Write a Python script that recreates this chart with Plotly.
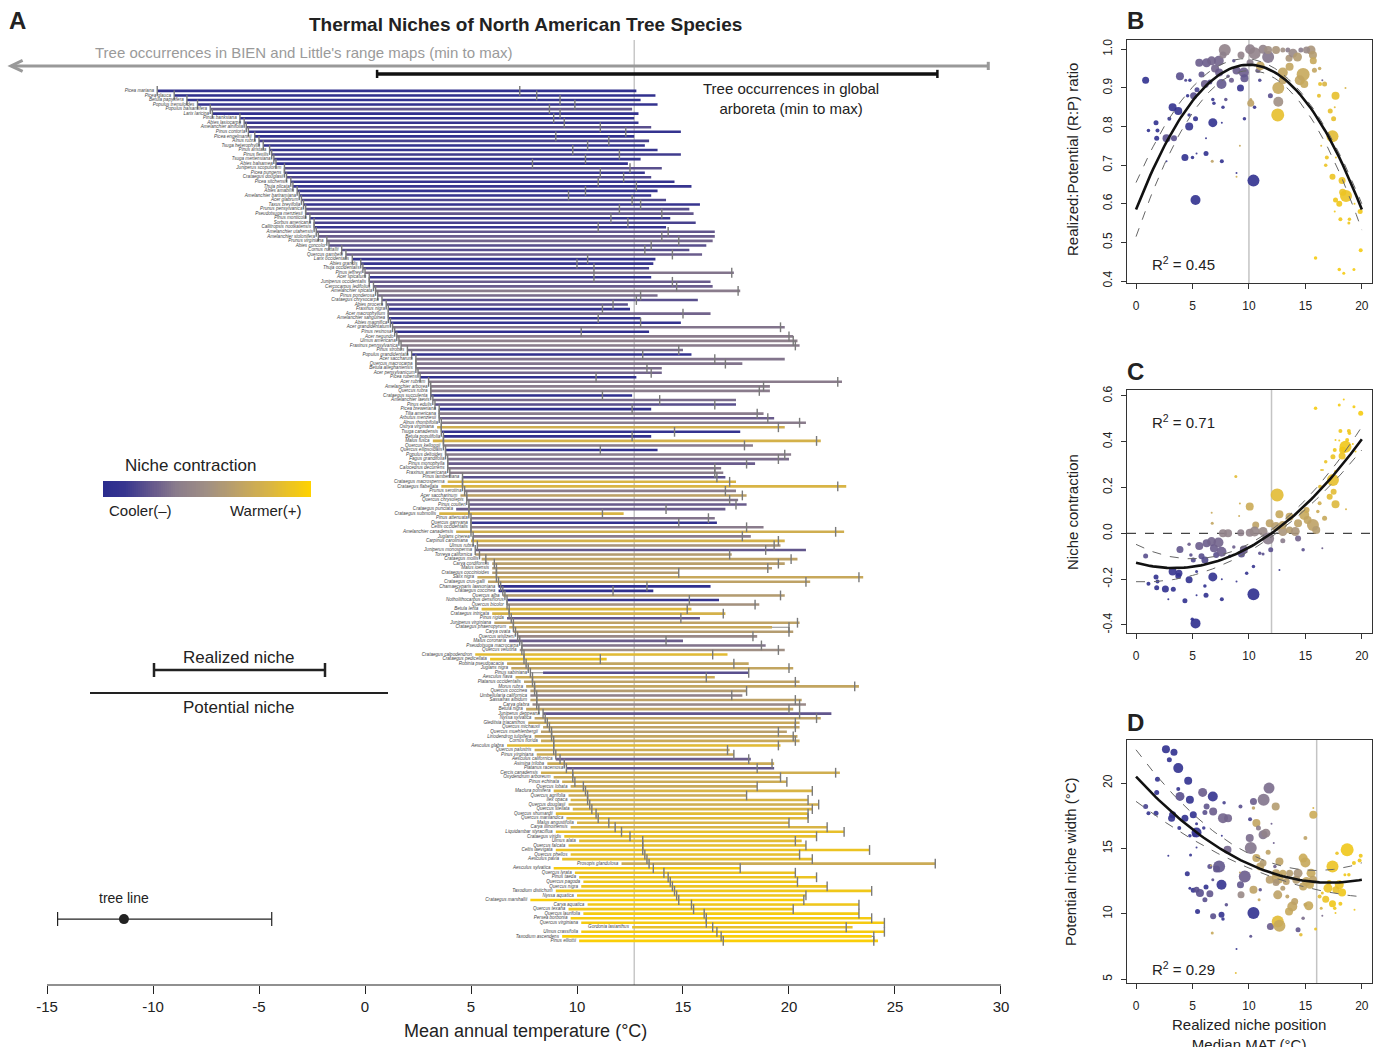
import plotly.graph_objects as go
from plotly.colors import sample_colorscale

W, H = 1382, 1047

# ---------------- Panel A data ----------------
species = [
    "Picea mariana", "Picea glauca", "Betula papyrifera", "Populus tremuloides", "Populus balsamifera",
    "Larix laricina", "Pinus banksiana", "Abies lasiocarpa", "Amelanchier alnifolia", "Pinus contorta",
    "Picea engelmannii", "Alnus rubra", "Tsuga heterophylla", "Pinus aristata", "Pinus flexilis",
    "Tsuga mertensiana", "Abies balsamea", "Juniperus scopulorum", "Picea pungens", "Crataegus douglasii",
    "Picea sitchensis", "Thuja plicata", "Abies amabilis", "Amelanchier bartramiana", "Acer glabrum",
    "Taxus brevifolia", "Prunus pensylvanica", "Pseudotsuga menziesii", "Pinus monticola", "Sorbus americana",
    "Callitropsis nootkatensis", "Amelanchier utahensis", "Amelanchier stolonifera", "Prunus virginiana", "Abies concolor",
    "Cornus nuttallii", "Quercus gambelii", "Larix occidentalis", "Abies grandis", "Thuja occidentalis",
    "Pinus jeffreyi", "Acer spicatum", "Juniperus occidentalis", "Cercocarpus ledifolius", "Amelanchier spicata",
    "Pinus ponderosa", "Crataegus chrysocarpa", "Abies procera", "Fraxinus nigra", "Acer macrophyllum",
    "Amelanchier sanguinea", "Abies magnifica", "Acer grandidentatum", "Pinus resinosa", "Acer negundo",
    "Ulmus americana", "Fraxinus pennsylvanica", "Pinus strobus", "Populus grandidentata", "Acer saccharum",
    "Quercus macrocarpa", "Betula alleghaniensis", "Acer pensylvanicum", "Picea rubens", "Acer rubrum",
    "Amelanchier arborea", "Quercus rubra", "Crataegus succulenta", "Amelanchier laevis", "Pinus edulis",
    "Picea breweriana", "Tilia americana", "Arbutus menziesii", "Alnus rhombifolia", "Ostrya virginiana",
    "Tsuga canadensis", "Betula populifolia", "Malus fusca", "Quercus kelloggii", "Quercus ellipsoidalis",
    "Populus deltoides", "Fagus grandifolia", "Pinus monophylla", "Calocedrus decurrens", "Fraxinus americana",
    "Pinus lambertiana", "Crataegus macrosperma", "Crataegus flabellata", "Prunus serotina", "Acer saccharinum",
    "Quercus chrysolepis", "Pinus coulteri", "Crataegus punctata", "Crataegus submollis", "Pinus attenuata",
    "Quercus garryana", "Celtis occidentalis", "Amelanchier canadensis", "Juglans cinerea", "Carpinus caroliniana",
    "Ulmus rubra", "Juniperus monosperma", "Torreya californica", "Crataegus mollis", "Carya cordiformis",
    "Malus ioensis", "Crataegus coccinioides", "Salix nigra", "Crataegus crus-galli", "Chamaecyparis lawsoniana",
    "Crataegus coccinea", "Quercus alba", "Notholithocarpus densiflorus", "Quercus bicolor", "Betula lenta",
    "Crataegus intricata", "Pinus rigida", "Juniperus virginiana", "Crataegus phaenopyrum", "Carya ovata",
    "Quercus wislizeni", "Malus coronaria", "Pseudotsuga macrocarpa", "Quercus velutina", "Crataegus calpodendron",
    "Crataegus pedicellata", "Robinia pseudoacacia", "Juglans nigra", "Pinus sabiniana", "Aesculus flava",
    "Platanus occidentalis", "Morus rubra", "Quercus coccinea", "Umbellularia californica", "Sassafras albidum",
    "Carya glabra", "Betula nigra", "Juniperus deppeana", "Nyssa sylvatica", "Gleditsia triacanthos",
    "Quercus michauxii", "Quercus muehlenbergii", "Liriodendron tulipifera", "Cornus florida", "Aesculus glabra",
    "Quercus palustris", "Pinus virginiana", "Aesculus californica", "Asimina triloba", "Platanus racemosa",
    "Cercis canadensis", "Oxydendrum arboreum", "Pinus echinata", "Quercus lobata", "Maclura pomifera",
    "Quercus agrifolia", "Ilex opaca", "Quercus douglasii", "Quercus stellata", "Quercus shumardii",
    "Quercus marilandica", "Malus angustifolia", "Carya illinoinensis", "Liquidambar styraciflua", "Crataegus viridis",
    "Ulmus alata", "Quercus falcata", "Celtis laevigata", "Quercus phellos", "Aesculus pavia",
    "Prosopis glandulosa", "Aesculus sylvatica", "Quercus lyrata", "Pinus taeda", "Quercus pagoda",
    "Quercus nigra", "Taxodium distichum", "Nyssa aquatica", "Crataegus marshallii", "Carya aquatica",
    "Quercus texana", "Quercus laurifolia", "Persea borbonia", "Quercus virginiana", "Gordonia lasianthus",
    "Ulmus crassifolia", "Taxodium ascendens", "Pinus elliottii",
]

pot_min = [
    -9.8, -9.0, -8.4, -7.9, -7.3, -7.2, -5.9, -5.7, -5.6, -5.5,
    -5.2, -5.0, -4.8, -4.5, -4.4, -4.3, -4.2, -3.8, -3.8, -3.7,
    -3.5, -3.4, -3.2, -3.1, -3.0, -2.9, -2.8, -2.8, -2.6, -2.4,
    -2.4, -2.3, -2.2, -1.8, -1.7, -1.1, -0.9, -0.6, -0.2, -0.1,
    0.0, 0.2, 0.2, 0.4, 0.5, 0.6, 0.8, 1.0, 1.1, 1.1,
    1.1, 1.2, 1.3, 1.4, 1.5, 1.6, 1.7, 2.0, 2.2, 2.4,
    2.4, 2.4, 2.5, 2.6, 3.0, 3.1, 3.1, 3.1, 3.2, 3.3,
    3.5, 3.5, 3.5, 3.6, 3.4, 3.6, 3.7, 3.2, 3.7, 3.8,
    3.8, 3.9, 3.9, 3.9, 4.0, 4.6, 3.9, 3.6, 4.7, 4.5,
    4.8, 4.9, 4.3, 3.5, 5.0, 5.0, 5.0, 4.3, 5.1, 5.0,
    5.3, 5.2, 5.2, 5.5, 6.0, 6.0, 6.0, 5.3, 5.8, 6.3,
    6.3, 6.5, 6.7, 6.7, 5.5, 6.0, 6.7, 6.1, 6.8, 7.0,
    7.2, 6.8, 7.4, 7.3, 5.2, 5.9, 6.7, 6.9, 8.4, 7.1,
    7.5, 7.6, 7.8, 7.8, 7.8, 7.9, 7.6, 8.4, 8.0, 7.7,
    8.4, 8.3, 8.0, 8.3, 6.7, 8.0, 8.1, 9.0, 8.6, 9.5,
    8.3, 8.9, 9.3, 9.7, 8.9, 9.6, 9.7, 9.6, 9.8, 9.0,
    9.5, 10.0, 9.7, 9.0, 9.4, 10.1, 9.6, 9.0, 9.7, 9.3,
    12.1, 8.9, 9.9, 10.1, 10.3, 10.2, 9.0, 10.0, 7.8, 10.5,
    9.6, 10.3, 9.7, 10.2, 12.6, 10.2, 9.3, 10.1,
]

real_min = [
    -9.8, -9.0, -8.4, -7.9, -7.3, -7.2, -5.9, -5.7, -5.6, -5.5,
    -5.2, -5.0, -4.8, -4.5, -4.4, -4.3, -4.2, -3.8, -3.8, -3.7,
    -3.5, -3.4, -3.2, -3.1, -3.0, -2.9, -2.8, -2.8, -2.6, -2.4,
    -2.4, -2.3, -2.2, -1.8, -1.7, -1.1, -0.9, -0.6, -0.2, -0.1,
    0.0, 0.2, 0.2, 0.4, 0.5, 0.6, 0.8, 1.0, 1.1, 1.1,
    1.1, 1.2, 1.3, 1.4, 1.5, 1.6, 1.7, 2.0, 2.2, 2.4,
    2.4, 2.4, 2.5, 2.6, 3.0, 3.1, 3.1, 3.1, 3.2, 3.3,
    3.5, 3.5, 3.5, 3.6, 3.6, 3.6, 3.7, 3.7, 3.7, 3.8,
    3.8, 3.9, 3.9, 3.9, 4.0, 4.6, 4.6, 4.6, 4.7, 4.8,
    4.8, 4.9, 4.9, 4.9, 5.0, 5.0, 5.0, 5.0, 5.1, 5.1,
    5.3, 5.2, 5.4, 5.7, 6.1, 6.2, 6.2, 6.2, 6.3, 6.4,
    6.5, 6.6, 6.7, 6.7, 6.8, 6.8, 6.9, 7.0, 7.0, 7.1,
    7.2, 7.3, 7.4, 7.4, 7.5, 7.5, 7.6, 7.7, 7.8, 7.9,
    7.9, 8.0, 8.0, 8.1, 8.1, 8.1, 8.2, 8.4, 8.5, 8.6,
    8.7, 8.8, 8.8, 8.9, 8.9, 8.9, 9.0, 9.2, 9.4, 9.5,
    9.8, 9.8, 9.9, 10.3, 10.4, 10.5, 10.5, 10.6, 10.7, 10.9,
    11.0, 11.5, 11.8, 12.1, 12.5, 13.1, 13.1, 13.1, 13.2, 13.3,
    13.4, 13.6, 14.1, 14.3, 14.4, 14.5, 14.6, 14.7, 14.8, 15.4,
    15.5, 16.0, 16.1, 16.1, 16.4, 16.6, 16.8, 16.9,
]

real_max = [
    7.3, 8.1, 9.2, 9.9, 8.7, 9.2, 8.9, 9.4, 11.1, 12.3,
    9.0, 11.5, 10.5, 9.8, 12.0, 10.4, 7.9, 12.5, 11.1, 12.2,
    11.0, 12.8, 10.4, 9.6, 12.6, 13.0, 12.0, 14.0, 11.6, 12.4,
    11.0, 14.3, 14.0, 14.8, 13.5, 13.2, 14.5, 10.5, 10.0, 10.8,
    17.3, 10.8, 14.5, 14.7, 17.6, 13.0, 12.8, 11.7, 11.2, 15.0,
    11.0, 13.0, 19.6, 10.2, 20.0, 20.2, 20.3, 14.8, 13.1, 16.5,
    17.0, 13.3, 13.5, 10.9, 22.3, 18.8, 18.6, 11.2, 13.9, 16.5,
    12.6, 18.5, 19.0, 20.5, 19.5, 14.6, 12.6, 21.3, 17.9, 11.1,
    19.8, 19.5, 18.0, 16.5, 16.5, 16.6, 17.2, 22.3, 17.0, 17.8,
    17.2, 17.5, 14.2, 11.2, 16.2, 14.8, 18.0, 22.2, 17.8, 19.5,
    19.3, 18.9, 17.2, 20.1, 19.5, 19.0, 14.8, 23.3, 20.8, 13.3,
    11.7, 19.6, 15.3, 18.4, 15.2, 16.9, 14.9, 20.4, 20.0, 20.0,
    18.3, 14.2, 18.7, 19.5, 16.4, 11.1, 17.4, 20.0, 18.1, 16.1,
    20.3, 23.1, 18.0, 17.3, 20.3, 20.5, 20.0, 20.5, 21.3, 20.3,
    20.3, 19.5, 20.2, 20.3, 19.5, 17.1, 17.4, 18.1, 19.2, 18.5,
    22.2, 19.6, 19.9, 18.5, 21.1, 18.0, 20.9, 21.4, 21.1, 20.9,
    20.9, 20.0, 21.8, 22.6, 21.3, 20.3, 20.8, 23.8, 20.5, 21.1,
    26.9, 17.7, 20.3, 21.3, 20.4, 21.8, 23.9, 20.8, 20.7, 23.3,
    20.2, 23.3, 23.9, 24.5, 22.7, 24.5, 24.0, 24.0,
]

pot_max = [
    12.8, 13.7, 13.0, 13.8, 12.6, 12.9, 12.7, 12.9, 13.5, 14.9,
    12.7, 13.4, 13.2, 13.8, 14.9, 13.0, 12.4, 14.0, 13.2, 13.5,
    14.6, 15.4, 13.8, 13.5, 14.2, 15.8, 15.3, 15.5, 14.4, 15.6,
    14.2, 16.5, 16.5, 16.4, 16.1, 15.3, 15.9, 13.7, 13.6, 13.4,
    17.4, 13.5, 16.3, 16.4, 17.7, 13.8, 15.7, 12.4, 12.5, 16.3,
    13.0, 14.9, 19.8, 13.4, 20.2, 20.4, 20.5, 15.0, 15.4, 19.8,
    17.8, 14.0, 14.0, 12.8, 22.5, 19.1, 19.1, 12.6, 17.5, 17.5,
    13.5, 18.8, 19.3, 20.8, 19.8, 17.7, 13.5, 21.5, 18.3, 13.8,
    20.1, 20.0, 18.4, 16.8, 16.9, 17.0, 17.5, 22.7, 17.5, 18.0,
    17.6, 18.0, 17.0, 12.2, 16.5, 16.6, 18.8, 22.6, 18.2, 19.8,
    19.6, 20.8, 17.3, 20.4, 19.8, 19.2, 14.8, 23.5, 21.0, 16.3,
    13.6, 19.8, 16.7, 18.6, 15.4, 17.0, 15.8, 20.5, 19.2, 20.2,
    18.5, 15.0, 18.9, 19.8, 17.1, 11.4, 18.1, 20.2, 18.1, 16.5,
    20.5, 23.3, 18.0, 17.8, 20.6, 20.8, 20.2, 22.0, 21.5, 20.5,
    20.5, 19.9, 20.4, 20.5, 19.6, 17.2, 17.4, 18.2, 19.3, 19.3,
    22.4, 19.6, 19.9, 18.5, 21.1, 18.0, 20.9, 21.4, 21.1, 20.9,
    20.9, 20.0, 21.8, 22.6, 21.3, 20.6, 20.8, 23.8, 20.5, 21.1,
    26.9, 17.7, 20.3, 21.3, 20.4, 21.8, 23.9, 20.8, 20.7, 23.3,
    20.2, 23.3, 23.9, 24.5, 23.0, 24.5, 23.9, 24.2,
]

contraction = [
    -0.9, -0.9, -0.85, -0.85, -0.55, -0.9, -0.85, -0.8, -0.6, -0.85,
    -0.9, -0.7, -0.85, -0.8, -0.75, -0.85, -0.9, -0.6, -0.8, -0.65,
    -0.85, -0.8, -0.85, -0.8, -0.65, -0.8, -0.6, -0.55, -0.8, -0.7,
    -0.8, -0.55, -0.5, -0.45, -0.6, -0.6, -0.5, -0.85, -0.8, -0.7,
    -0.35, -0.85, -0.5, -0.5, -0.3, -0.4, -0.6, -0.6, -0.85, -0.45,
    -0.85, -0.85, -0.35, -0.9, -0.3, -0.25, -0.3, -0.4, -0.85, -0.35,
    -0.35, -0.4, -0.45, -0.9, -0.3, -0.3, -0.3, -0.9, -0.4, -0.6,
    -0.9, -0.3, -0.5, -0.3, 0.5, -0.85, -0.9, 0.55, -0.3, -0.9,
    -0.3, -0.4, -0.5, -0.35, -0.3, -0.6, 0.6, 0.6, -0.3, 0.3,
    -0.35, -0.5, -0.5, 0.6, -0.35, -0.85, -0.3, 0.5, -0.3, 0.55,
    0.1, -0.55, 0.2, 0.3, 0.25, 0.2, 0.2, 0.4, 0.3, -0.9,
    -0.9, 0.2, -0.8, 0.05, 0.65, 0.55, -0.55, 0.3, 0.4, 0.2,
    -0.1, -0.5, -0.35, 0.0, 0.7, 0.8, 0.35, 0.35, -0.6, 0.45,
    0.3, 0.35, 0.2, -0.2, 0.3, -0.1, 0.35, -0.55, 0.3, 0.4,
    0.3, 0.25, 0.35, 0.4, 0.7, 0.45, 0.45, -0.5, 0.45, -0.55,
    0.5, 0.45, 0.45, 0.4, 0.6, 0.45, 0.6, 0.5, 0.6, 0.7,
    0.65, 0.6, 0.6, 0.75, 0.75, 0.7, 0.75, 0.8, 0.75, 0.75,
    0.45, 0.9, 0.8, 0.8, 0.85, 0.8, 0.85, 0.85, 0.95, 0.85,
    0.85, 0.9, 0.9, 0.9, 0.75, 0.9, 0.95, 0.95,
]

# Reference ranges shown at the top of panel A
bien_range = [-16.7, 29.4]
arboreta_range = [0.57, 27.0]
ref_mat = 12.7
tree_line = [-14.5, -11.37, -4.4]

# ---------------- Panel B data (R:P ratio) ----------------
b_x = [0.85, 1.1, 1.77, 1.9, 1.83, 2.7, 3.36, 3.24, 3.74, 2.95, 3.89, 4.77, 4.4, 4.57, 4.7, 4.71, 4.33, 5.0,
       5.36, 5.27, 2.7, 5.27, 5.1, 5.4, 5.6, 5.8, 6.1, 6.25, 6.69, 7.0, 7.33, 7.57, 7.36, 6.54, 7.86, 7.7, 6.8,
       6.9, 7.7, 6.8, 6.2, 7.6, 6.75, 7.6, 7.95, 8.45, 8.66, 8.9, 8.9, 9.2, 9.25, 8.9, 9.55, 9.6, 9.3, 9.6,
       10.16, 10.16, 10.4, 10.5, 10.1, 10.5, 10.1, 10.8, 10.96, 11.25, 11.7, 11.7, 12.4, 11.0, 11.9, 12.6,
       12.6, 12.55, 13.0, 13.0, 13.45, 13.55, 13.6, 13.0, 13.9, 14.3, 14.6, 14.8, 14.5, 14.9, 15.5, 15.67,
       15.7, 15.8, 15.1, 16.26, 16.3, 16.7, 16.5, 16.2, 17.67, 18.55, 17.6, 17.2, 17.5, 17.4, 16.4, 16.9,
       16.8, 17.7, 17.4, 18.25, 18.6, 17.67, 18.0, 18.1, 18.9, 18.85, 19.35, 19.85, 19.9, 17.6, 15.9, 18.0,
       18.4, 19.3, 18.3, 6.2, 8.15]
b_y = [0.92, 0.79, 0.81, 0.79, 0.77, 0.77, 0.77, 0.85, 0.84, 0.82, 0.93, 0.92, 0.92, 0.88, 0.83, 0.80, 0.72,
       0.72, 0.73, 0.61, 0.71, 0.82, 0.88, 0.895, 0.965, 0.935, 0.91, 0.965, 0.97, 0.95, 0.97, 0.91, 0.94,
       0.915, 0.998, 0.985, 0.87, 0.86, 0.85, 0.81, 0.73, 0.81, 0.71, 0.71, 0.87, 0.92, 0.97, 0.67, 0.68,
       0.75, 0.90, 0.945, 0.94, 0.925, 0.985, 0.82, 0.86, 0.87, 0.66, 0.85, 1.0, 0.99, 0.965, 0.945, 0.92,
       1.0, 0.98, 0.998, 0.998, 0.957, 0.88, 0.90, 0.864, 0.83, 0.94, 0.998, 0.998, 0.977, 0.955, 0.92,
       0.99, 0.98, 0.998, 0.935, 0.92, 0.91, 0.998, 0.985, 0.97, 0.946, 0.998, 0.95, 0.91, 0.91, 0.92, 0.88,
       0.88, 0.90, 0.85, 0.84, 0.82, 0.775, 0.75, 0.72, 0.70, 0.72, 0.67, 0.66, 0.62, 0.61, 0.60, 0.56, 0.56,
       0.55, 0.60, 0.58, 0.48, 0.58, 0.46, 0.43, 0.42, 0.43, 0.63, 0.77, 0.93]
b_size = [7, 3.5, 5, 4, 5, 8, 6, 8, 8, 4, 8, 3.5, 3, 3.5, 3.5, 8, 7, 3.5, 2, 10, 2, 5, 7, 5, 8, 6, 8, 9, 9, 8,
          10, 10, 8, 5, 12, 7, 3.5, 3.5, 3.5, 9, 5, 2, 3, 4, 3.5, 5, 3.5, 2, 2, 2, 7, 8, 10, 8, 7, 3.5, 7, 3,
          12, 3.5, 10, 12, 7, 5, 3.5, 9, 12, 8, 8, 9, 5, 12, 10, 13, 10, 5, 5, 7, 8, 8, 9, 9, 5, 13, 10, 8, 9,
          8, 7, 5, 7, 3.5, 4, 5, 2, 4, 8, 2, 2, 5, 5, 12, 2, 4, 3.5, 2, 6, 7, 12, 5, 6, 4, 3.5, 3, 2, 5, 4, 2,
          3.5, 3.5, 3, 3, 7, 2, 3.5]
b_col = [-0.9, -0.9, -0.9, -0.9, -0.9, -0.6, -0.6, -0.85, -0.85, -0.85, -0.6, -0.85, -0.7, -0.85, -0.85,
         -0.85, -0.9, -0.9, -0.8, -0.9, -0.8, -0.85, -0.6, -0.7, -0.5, -0.55, -0.5, -0.5, -0.45, -0.45, -0.45,
         -0.55, -0.5, -0.6, -0.2, -0.25, -0.8, -0.8, -0.8, -0.9, -0.9, -0.8, 0.3, -0.9, -0.6, -0.5, -0.6, 0.5,
         -0.8, 0.4, -0.8, -0.5, -0.5, -0.55, -0.2, -0.8, 0.3, 0.3, -0.9, -0.8, -0.25, -0.2, -0.3, -0.5, -0.7,
         -0.2, -0.35, 0.0, 0.1, 0.35, -0.6, 0.4, 0.0, 0.75, 0.35, 0.0, -0.3, 0.1, 0.35, 0.3, -0.1, 0.2, -0.3,
         0.4, 0.35, 0.4, 0.1, 0.2, 0.4, 0.35, -0.1, 0.4, 0.75, 0.6, -0.5, 0.75, 0.75, 0.6, 0.7, 0.75, 0.75,
         0.7, 0.7, 0.8, 0.8, 0.8, 0.8, 0.8, 0.8, 0.85, 0.85, 0.85, 0.85, 0.85, 0.85, 0.85, 0.9, 0.85, 0.9,
         0.9, 0.9, 0.9, 0.8, -0.8, -0.5]
b_fit = [0.585, 0.075, -0.00375]
b_hi = [0.655, 0.06675, -0.003475]
b_lo = [0.515, 0.08515, -0.004215]
b_ref = 10.0

# ---------------- Panel C data (niche contraction) ----------------
c_x = [0.85, 1.1, 1.77, 1.9, 1.83, 2.6, 3.3, 2.86, 3.24, 3.8, 3.74, 3.89, 4.33, 4.7, 4.7, 4.86, 5.07, 5.36,
       5.27, 4.98, 5.36, 5.6, 5.8, 6.1, 6.1, 6.2, 6.25, 6.69, 6.9, 6.8, 6.7, 6.75, 7.1, 7.3, 7.57, 7.6, 7.6,
       7.7, 8.15, 8.3, 8.66, 8.84, 8.9, 9.2, 9.13, 9.28, 9.34, 9.55, 9.8, 10.07, 10.07, 10.4, 10.4, 10.6,
       10.5, 10.96, 11.25, 11.25, 11.7, 11.84, 11.93, 12.5, 12.7, 12.7, 12.4, 13.0, 13.0, 13.0, 13.6, 13.6,
       14.1, 14.35, 14.35, 14.8, 14.9, 15.1, 15.2, 15.67, 15.96, 16.26, 16.1, 16.3, 16.7, 15.9, 16.5, 16.4,
       16.8, 17.15, 17.5, 17.44, 17.67, 17.44, 17.6, 17.67, 18.0, 18.1, 18.0, 18.4, 18.3, 18.55, 18.25, 18.7,
       18.85, 18.9, 19.3, 19.9, 19.44, 18.6, 17.67, 19.2, 16.55]
c_y = [-0.099, -0.22, -0.19, -0.21, -0.237, -0.243, -0.244, -0.288, -0.167, -0.174, -0.186, -0.07, -0.294,
       -0.203, -0.048, -0.094, -0.116, -0.167, -0.393, -0.375, -0.27, -0.055, -0.10, -0.116, -0.23, -0.27,
       -0.043, -0.036, -0.065, -0.19, 0.09, 0.044, -0.094, -0.04, -0.08, -0.2, -0.288, 0.0, 0.0, -0.1, -0.06,
       0.248, -0.21, 0.13, 0.076, 0.003, -0.09, -0.07, -0.174, 0.003, 0.117, -0.266, -0.145, 0.037, 0.008,
       -0.087, 0.008, -0.09, -0.022, 0.044, -0.072, 0.168, -0.16, 0.083, 0.03, 0.008, -0.032, 0.037, 0.073,
       0.015, 0.008, -0.022, 0.044, -0.072, 0.08, 0.102, 0.058, 0.037, 0.015, 0.131, 0.095, 0.204, 0.066,
       0.546, -0.065, 0.277, 0.313, 0.16, 0.182, 0.233, 0.127, 0.335, 0.364, 0.408, 0.405, 0.447, 0.56, 0.585,
       0.364, 0.378, 0.338, 0.408, 0.447, 0.437, 0.553, 0.524, 0.357, 0.105, 0.27, 0.39, 0.277]
c_size = [5, 4, 5, 4, 5, 7, 5, 2, 8, 7, 6, 7, 5, 7, 3.5, 3.5, 5, 3, 10, 3.5, 2, 8, 6, 7, 3.5, 5, 8, 9, 8, 9,
          2, 3, 6, 10, 10, 2, 4, 8, 8, 3.5, 3.5, 3, 2, 2, 2, 7, 7, 8, 3.5, 8, 8, 12, 3.5, 7, 10, 3.5, 9, 3, 12,
          8, 5, 13, 2, 8, 9, 9, 5, 8, 8, 7, 9, 6, 8, 3.5, 10, 6, 8, 12, 8, 4, 3.5, 4, 5, 3.5, 2, 2, 3.5, 6, 6,
          12, 8, 5, 4, 2, 2, 4, 3, 2, 7, 12, 7, 4, 4, 3.5, 3, 5, 2, 2, 3, 2, 2]
c_col = [-0.6, -0.9, -0.9, -0.9, -0.9, -0.9, -0.9, -0.9, -0.8, -0.8, -0.85, -0.55, -0.9, -0.9, -0.5, -0.6,
         -0.65, -0.8, -0.95, -0.95, -0.9, -0.5, -0.6, -0.65, -0.9, -0.9, -0.5, -0.45, -0.5, -0.9, 0.4, 0.35,
         -0.6, -0.45, -0.5, -0.8, -0.9, -0.2, -0.2, -0.6, -0.5, 0.7, -0.8, 0.5, 0.45, -0.25, -0.6, -0.5, -0.85,
         -0.2, 0.45, -0.95, -0.8, 0.3, -0.15, -0.6, -0.1, -0.6, -0.3, 0.3, -0.6, 0.7, -0.8, 0.4, 0.25, 0.1,
         -0.3, 0.3, 0.35, 0.2, 0.1, -0.45, 0.3, -0.6, 0.4, 0.45, 0.35, 0.3, 0.2, 0.5, 0.45, 0.7, 0.4, 0.9,
         -0.5, 0.75, 0.8, 0.7, 0.7, 0.75, 0.65, 0.8, 0.85, 0.85, 0.85, 0.85, 0.9, 0.9, 0.85, 0.85, 0.8, 0.85,
         0.85, 0.85, 0.9, 0.9, 0.85, 0.6, 0.8, 0.85, 0.75]
c_fit = [-0.128, -0.01376, 0.002036]
c_hi = [-0.048, -0.02542, 0.002556]
c_lo = [-0.211, -0.00229, 0.001552]
c_ref = 12.0

# ---------------- Panel D data (potential niche width) ----------------
d_x = [2.65, 3.36, 2.95, 3.74, 4.62, 1.9, 1.83, 3.74, 3.89, 0.85, 1.1, 1.77, 3.15, 3.24, 4.33, 4.77, 5.07, 3.83,
       5.36, 5.36, 5.2, 4.77, 5.36, 6.0, 5.9, 6.25, 6.8, 6.1, 6.83, 7.8, 7.7, 8.15, 7.6, 8.1, 7.36, 7.13, 6.54,
       6.63, 2.86, 4.83, 4.54, 4.77, 5.07, 5.36, 5.66, 6.2, 6.1, 6.54, 7.57, 6.8, 8.0, 5.45, 6.83, 7.57, 7.7,
       6.75, 8.9, 8.84, 9.25, 10.4, 10.1, 11.3, 11.78, 10.4, 10.66, 10.84, 11.25, 11.5, 10.07, 10.16, 10.66,
       11.7, 12.0, 12.2, 11.0, 11.25, 9.63, 9.25, 9.3, 9.2, 10.4, 11.0, 10.9, 10.4, 10.16, 11.9, 12.55, 12.7,
       12.55, 12.55, 12.4, 12.4, 12.37, 11.84, 13.0, 13.3, 13.0, 12.7, 12.3, 13.4, 13.55, 13.84, 14.05, 13.6,
       14.2, 14.35, 14.8, 15.0, 15.1, 15.5, 15.4, 14.8, 15.67, 14.35, 14.6, 14.8, 15.0, 15.3, 15.0, 15.7,
       15.7, 15.9, 16.4, 16.26, 16.5, 16.8, 17.0, 17.4, 17.4, 17.6, 17.67, 17.8, 18.0, 18.25, 18.1, 18.5,
       18.7, 18.85, 19.3, 19.8, 19.9, 19.35, 17.7, 17.1, 16.5]
d_y = [22.6, 22.37, 21.79, 21.15, 20.18, 20.3, 19.29, 19.54, 18.98, 18.21, 17.7, 17.7, 17.32, 17.58, 17.32,
       18.72, 17.58, 16.56, 16.89, 16.22, 16.05, 15.97, 15.08, 16.56, 19.29, 18.21, 18.98, 17.76, 17.83, 18.5,
       17.32, 17.32, 15.97, 14.9, 13.62, 13.42, 13.62, 13.7, 14.44, 14.49, 13.06, 11.96, 11.79, 11.84, 11.58,
       12.04, 11.07, 11.53, 12.22, 12.6, 10.69, 10.18, 9.8, 9.92, 9.59, 8.52, 7.3, 5.46, 18.21, 18.6, 17.24,
       18.72, 19.62, 18.1, 16.94, 16.56, 16.05, 16.17, 15.8, 15.03, 14.26, 14.7, 16.89, 15.41, 13.62, 13.88,
       12.86, 12.22, 11.45, 13.16, 11.84, 11.84, 11.07, 10.05, 8.27, 9.03, 9.41, 9.08, 11.45, 12.73, 13.11,
       12.4, 18.21, 12.6, 13.11, 12.47, 11.96, 14.0, 13.62, 11.33, 10.18, 10.56, 10.94, 13.11, 12.6, 13.11,
       14.26, 13.93, 12.47, 13.11, 12.22, 12.09, 12.6, 8.78, 8.39, 9.66, 10.69, 10.61, 15.8, 17.58, 18.09, 8.83,
       10.43, 11.33, 9.84, 11.12, 11.96, 13.62, 10.77, 10.43, 10.05, 14.64, 12.22, 11.63, 10.77, 12.98, 14.9,
       12.98, 13.88, 14.08, 14.44, 10.31, 11.84, 12.4, 11.58]
d_size = [8, 7, 5, 10, 8, 5, 5, 4, 9, 5, 4, 5, 7, 7, 7, 8, 7, 4, 3, 10, 5, 3.5, 2, 3.5, 9, 6, 10, 5, 8, 3.5,
          10, 8, 2, 8, 12, 7, 5, 2, 2, 3, 5, 3, 5, 6, 8, 5, 5, 7, 10, 3, 3.5, 5, 6, 6, 3.5, 3, 2, 2, 4, 7, 4,
          12, 11, 3.5, 8, 5, 9, 9, 8, 12, 8, 5, 2, 2, 8, 7, 12, 7, 7, 2, 8, 3.5, 3, 12, 3, 7, 12, 12, 9, 12, 8,
          7, 8, 8, 7, 7, 5, 8, 3.5, 4, 8, 10, 7, 7, 8, 9, 9, 10, 9, 9, 8, 8, 8, 5, 3.5, 3.5, 4, 9, 4, 8, 2, 3,
          3, 4, 2, 7, 9, 12, 7, 3.5, 2, 3.5, 9, 8, 4, 3, 13, 3.5, 4, 4, 4, 2, 7, 5, 3]
d_col = [-0.9, -0.9, -0.9, -0.9, -0.9, -0.9, -0.9, -0.85, -0.6, -0.7, -0.85, -0.85, -0.85, -0.85, -0.9, -0.9,
         -0.9, -0.85, -0.8, -0.9, -0.85, -0.85, -0.8, -0.8, -0.5, -0.55, -0.85, -0.6, -0.5, -0.7, -0.45,
         -0.45, -0.8, -0.45, -0.55, -0.55, -0.6, 0.4, -0.85, -0.8, -0.85, -0.85, -0.85, -0.6, -0.6, -0.9, -0.6,
         -0.55, -0.85, -0.6, -0.6, -0.9, -0.6, -0.85, -0.85, 0.4, -0.85, 0.7, -0.6, -0.5, -0.7, -0.35, -0.4,
         0.3, 0.35, -0.3, -0.35, -0.2, -0.4, -0.35, 0.35, 0.3, -0.5, -0.5, 0.3, 0.2, -0.5, -0.55, -0.1, 0.3,
         0.3, -0.6, 0.4, -0.9, -0.6, -0.5, 0.7, 0.4, 0.3, 0.35, 0.3, 0.1, 0.2, 0.25, 0.35, 0.25, 0.2, 0.3,
         -0.5, 0.3, 0.4, 0.35, 0.3, 0.2, 0.2, 0.1, 0.45, 0.4, 0.35, 0.4, 0.4, 0.35, 0.3, -0.55, 0.7, -0.4, 0.3,
         0.4, 0.3, 0.45, 0.6, 0.8, 0.6, 0.7, -0.4, 0.8, 0.8, 0.8, 0.85, 0.85, 0.8, 0.8, 0.8, 0.85, 0.85, 0.85,
         0.85, 0.85, 0.85, 0.85, 0.85, 0.85, 0.75, 0.8, 0.75]
d_fit = [20.5, -0.945, 0.0275]
d_hi = [22.55, -1.1575, 0.03625]
d_lo = [18.6, -0.655, 0.0145]
d_ref = 16.0

# ---------------- styling ----------------
CSCALE = [[0.0, "rgb(43,44,142)"], [0.1, "rgb(55,53,143)"], [0.25, "rgb(106,92,140)"],
          [0.35, "rgb(138,124,140)"], [0.5, "rgb(160,143,132)"], [0.65, "rgb(190,162,102)"],
          [0.8, "rgb(216,180,69)"], [1.0, "rgb(255,210,0)"]]
NARROW = "Liberation Sans Narrow, Liberation Sans, Arial, sans-serif"
SANS = "Liberation Sans, Arial, sans-serif"
TICK_GRAY = "#7a7a7a"


def px(x):
    return x / W


def py(y):
    return 1 - y / H


n = len(species)
assert all(len(a) == n for a in [pot_min, real_min, real_max, pot_max, contraction])
rows = list(range(1, n + 1))
row_cols = sample_colorscale(CSCALE, [(c + 1) / 2 for c in contraction])

fig = go.Figure()

# realized niche (gray)
gx, gy = [], []
for r, a, b in zip(rows, real_min, real_max):
    gx += [a, b, None]
    gy += [r, r, None]
fig.add_trace(go.Scatter(x=gx, y=gy, mode="lines", line=dict(color="#8c8c8c", width=1.2),
                         hoverinfo="skip", showlegend=False, xaxis="x", yaxis="y"))

# potential niche (coloured by contraction)
for r, a, b, col in zip(rows, pot_min, pot_max, row_cols):
    fig.add_trace(go.Scatter(x=[a, b], y=[r, r], mode="lines", line=dict(color=col, width=2.6),
                             hoverinfo="skip", showlegend=False, xaxis="x", yaxis="y"))

# realized niche end ticks
tx = real_min + real_max
ty = rows + rows
fig.add_trace(go.Scatter(x=tx, y=ty, mode="markers",
                         marker=dict(symbol="line-ns-open", size=7, color=TICK_GRAY,
                                     line=dict(width=1.4, color=TICK_GRAY)),
                         hoverinfo="skip", showlegend=False, xaxis="x", yaxis="y"))

# species labels
lab_x = [min(a, b) - 0.15 for a, b in zip(pot_min, real_min)]
fig.add_trace(go.Scatter(x=lab_x, y=rows, mode="text", text=species, textposition="middle left",
                         textfont=dict(size=4.6, color="#444", family=SANS, style="italic"),
                         hoverinfo="skip", showlegend=False, xaxis="x", yaxis="y"))

# tree line legend
fig.add_trace(go.Scatter(x=[tree_line[0], tree_line[2]], y=[183.2, 183.2], mode="lines",
                         line=dict(color="#222", width=1.2), hoverinfo="skip", showlegend=False,
                         xaxis="x", yaxis="y"))
fig.add_trace(go.Scatter(x=[tree_line[0], tree_line[2]], y=[183.2, 183.2], mode="markers",
                         marker=dict(symbol="line-ns-open", size=10, color="#222",
                                     line=dict(width=1.2, color="#222")),
                         hoverinfo="skip", showlegend=False, xaxis="x", yaxis="y"))
fig.add_trace(go.Scatter(x=[tree_line[1]], y=[183.2], mode="markers",
                         marker=dict(size=10, color="#222"), hoverinfo="skip", showlegend=False,
                         xaxis="x", yaxis="y"))

# colour legend bar
fig.add_trace(go.Heatmap(z=[list(range(101))], colorscale=CSCALE, showscale=False, hoverinfo="skip",
                         xaxis="x5", yaxis="y5"))


def quad(coef, xs):
    return [coef[0] + coef[1] * x + coef[2] * x * x for x in xs]


xs = [i * 0.25 for i in range(81)]

for (xa, ya, X, Y, S, K, fit, hi, lo) in [
    ("x2", "y2", b_x, b_y, b_size, b_col, b_fit, b_hi, b_lo),
    ("x3", "y3", c_x, c_y, c_size, c_col, c_fit, c_hi, c_lo),
    ("x4", "y4", d_x, d_y, d_size, d_col, d_fit, d_hi, d_lo),
]:
    fig.add_trace(go.Scatter(x=X, y=Y, mode="markers",
                             marker=dict(size=S, color=K, colorscale=CSCALE, cmin=-1, cmax=1,
                                         line=dict(width=0), opacity=0.9),
                             hoverinfo="skip", showlegend=False, xaxis=xa, yaxis=ya))
    for cf in (hi, lo):
        fig.add_trace(go.Scatter(x=xs, y=quad(cf, xs), mode="lines",
                                 line=dict(color="#666", width=1, dash="dash"),
                                 hoverinfo="skip", showlegend=False, xaxis=xa, yaxis=ya))
    fig.add_trace(go.Scatter(x=xs, y=quad(fit, xs), mode="lines", line=dict(color="#111", width=2.6),
                             hoverinfo="skip", showlegend=False, xaxis=xa, yaxis=ya))

shapes = []
# reference line in A
shapes.append(dict(type="line", xref="x", yref="paper", x0=ref_mat, x1=ref_mat, y0=py(985), y1=py(40),
                   line=dict(color="#c8c8c8", width=1.5), layer="below"))
# x axis line A
shapes.append(dict(type="line", xref="x", yref="paper", x0=-15, x1=30, y0=py(985), y1=py(985),
                   line=dict(color="#222", width=1.2)))
# BIEN arrow
yb = -4.5
shapes.append(dict(type="line", xref="x", yref="y", x0=bien_range[0] + 0.1, x1=bien_range[1], y0=yb, y1=yb,
                   line=dict(color="#999", width=3)))
shapes.append(dict(type="path", xref="x", yref="y",
                   path=f"M {bien_range[0]+0.55},{yb-1.2} L {bien_range[0]},{yb} L {bien_range[0]+0.55},{yb+1.2}",
                   line=dict(color="#999", width=3)))
shapes.append(dict(type="line", xref="x", yref="y", x0=bien_range[1], x1=bien_range[1], y0=yb - 0.9, y1=yb + 0.9,
                   line=dict(color="#999", width=3)))
# arboreta line
ya_ = -2.74
shapes.append(dict(type="line", xref="x", yref="y", x0=arboreta_range[0], x1=arboreta_range[1], y0=ya_, y1=ya_,
                   line=dict(color="#111", width=3.5)))
for xv in arboreta_range:
    shapes.append(dict(type="line", xref="x", yref="y", x0=xv, x1=xv, y0=ya_ - 0.9, y1=ya_ + 0.9,
                       line=dict(color="#111", width=2.5)))
# realized / potential legend
shapes.append(dict(type="line", xref="paper", yref="paper", x0=px(154), x1=px(325), y0=py(670), y1=py(670),
                   line=dict(color="#222", width=2.5)))
for xv in (154, 325):
    shapes.append(dict(type="line", xref="paper", yref="paper", x0=px(xv), x1=px(xv), y0=py(663), y1=py(677),
                       line=dict(color="#222", width=2.5)))
shapes.append(dict(type="line", xref="paper", yref="paper", x0=px(90), x1=px(388), y0=py(693), y1=py(693),
                   line=dict(color="#222", width=2)))
# reference lines in B, C, D and zero line in C
for xa, ya, xv, r0, r1 in [("x2", "y2", b_ref, 0.395, 1.024), ("x3", "y3", c_ref, -0.435, 0.626),
                           ("x4", "y4", d_ref, 4.7, 23.3)]:
    shapes.append(dict(type="line", xref=xa, yref=ya, x0=xv, x1=xv, y0=r0, y1=r1,
                       line=dict(color="#c4c4c4", width=1.5), layer="below"))
shapes.append(dict(type="line", xref="x3", yref="y3", x0=-0.8, x1=20.9, y0=0, y1=0,
                   line=dict(color="#444", width=1.2, dash="dash"), layer="below"))

ann = []


def A(x, y, text, size, color="#222", family=SANS, **kw):
    ann.append(dict(x=px(x), y=py(y), xref="paper", yref="paper", text=text, showarrow=False,
                    xanchor="center", yanchor="middle",
                    font=dict(size=size, color=color, family=family), **kw))


A(525, 25, "<b>Thermal Niches of North American Tree Species</b>", 19, family=NARROW)
A(17, 20, "<b>A</b>", 24, family=NARROW)
A(1135, 20, "<b>B</b>", 24, family=NARROW)
A(1135, 372, "<b>C</b>", 24, family=NARROW)
A(1135, 722, "<b>D</b>", 24, family=NARROW)
A(303, 53, "Tree occurrences in BIEN and Little's range maps (min to max)", 15, color="#9a9a9a", family=NARROW)
A(791, 98, "Tree occurrences in global<br>arboreta (min to max)", 15, family=NARROW)
A(190, 466, "Niche contraction", 17)
A(140, 510, "Cooler(–)", 15)
A(266, 510, "Warmer(+)", 15)
A(239, 657, "Realized niche", 17)
A(239, 707, "Potential niche", 17)
A(124, 898, "tree line", 14)
A(525, 1031, "Mean annual temperature (°C)", 18, family=NARROW)
A(1072, 160, "Realized:Potential (R:P) ratio", 15, textangle=-90)
A(1072, 512, "Niche contraction", 15, textangle=-90)
A(1070, 862, "Potential niche width (°C)", 15, textangle=-90)
A(1249, 1034, "Realized niche position<br>Median MAT (°C)", 15)
A(1183, 264, "R<sup>2</sup> = 0.45", 15)
A(1183, 421, "R<sup>2</sup> = 0.71", 15)
A(1183, 968, "R<sup>2</sup> = 0.29", 15)

box_axis = dict(showline=True, mirror=True, linecolor="#333", linewidth=1.2, ticks="outside", ticklen=5,
                tickcolor="#333", showgrid=False, zeroline=False, automargin=False,
                tickfont=dict(size=12, family=SANS, color="#222"))
xdom = [px(1127), px(1372)]

fig.update_layout(
    template="none",
    width=W, height=H, margin=dict(l=0, r=0, t=0, b=0, pad=0, autoexpand=False),
    paper_bgcolor="white", plot_bgcolor="white",
    font=dict(family=SANS, color="#222"),
    showlegend=False,
    xaxis=dict(domain=[0, px(1040)], range=[-17.217, 31.84], tickvals=[-15, -10, -5, 0, 5, 10, 15, 20, 25, 30],
               ticktext=["-15", "-10", "-5", "0", "5", "10", "15", "20", "25", "30"],
               ticks="outside", ticklen=8, tickcolor="#222", showgrid=False, zeroline=False, showline=False,
               automargin=False, tickfont=dict(size=15, family=NARROW, color="#222"), anchor="y"),
    yaxis=dict(domain=[py(985), py(40)], range=[197.7, -10.2], visible=False, anchor="x", automargin=False),
    xaxis2=dict(domain=xdom, range=[-0.8, 20.9], tickvals=[0, 5, 10, 15, 20], anchor="y2",
                ticklabelstandoff=6, **box_axis),
    yaxis2=dict(domain=[py(283), py(40)], range=[0.395, 1.024], tickvals=[0.4, 0.5, 0.6, 0.7, 0.8, 0.9, 1.0],
                ticktext=["0.4", "0.5", "0.6", "0.7", "0.8", "0.9", "1.0"], tickangle=-90, anchor="x2",
                ticklabelstandoff=4, **box_axis),
    xaxis3=dict(domain=xdom, range=[-0.8, 20.9], tickvals=[0, 5, 10, 15, 20], anchor="y3",
                ticklabelstandoff=6, **box_axis),
    yaxis3=dict(domain=[py(633), py(390)], range=[-0.435, 0.626], tickvals=[-0.4, -0.2, 0.0, 0.2, 0.4, 0.6],
                ticktext=["-0.4", "-0.2", "0.0", "0.2", "0.4", "0.6"], tickangle=-90, anchor="x3",
                ticklabelstandoff=4, **box_axis),
    xaxis4=dict(domain=xdom, range=[-0.8, 20.9], tickvals=[0, 5, 10, 15, 20], anchor="y4",
                ticklabelstandoff=6, **box_axis),
    yaxis4=dict(domain=[py(983), py(740)], range=[4.7, 23.3], tickvals=[5, 10, 15, 20], tickangle=-90,
                anchor="x4", ticklabelstandoff=4, **box_axis),
    xaxis5=dict(domain=[px(103), px(311)], visible=False, anchor="y5", automargin=False),
    yaxis5=dict(domain=[py(497), py(481)], visible=False, anchor="x5", automargin=False),
    shapes=shapes,
    annotations=ann,
)

fig.write_html("out.html", config={"displayModeBar": False},
               post_script="document.body.style.margin='0px';")
